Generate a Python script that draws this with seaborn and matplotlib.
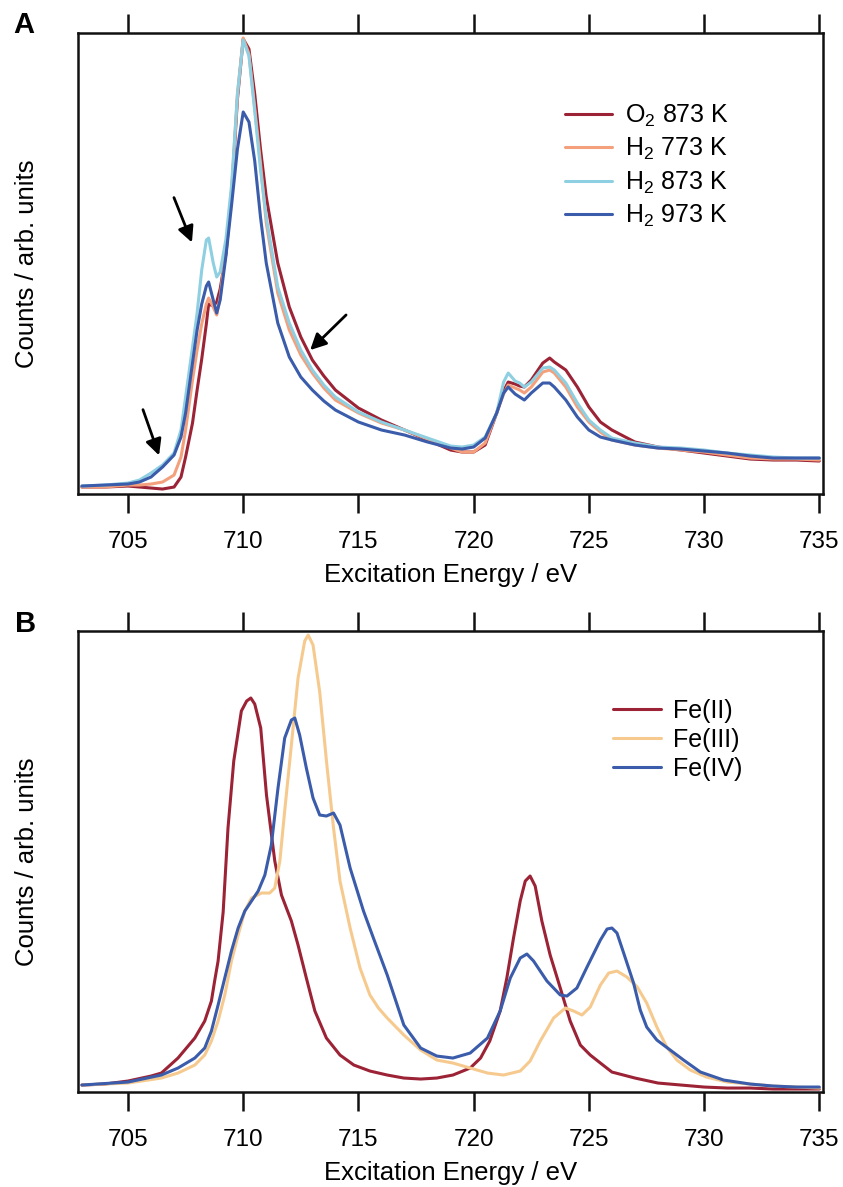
import pandas as pd
import matplotlib
matplotlib.use('Agg')
import matplotlib.pyplot as plt
import seaborn as sns

# Panel A: measured L-edge spectra (arb. units)
energy_a = [703, 704, 705, 705.5, 706, 706.5, 707, 707.3, 707.5, 707.8, 708, 708.2, 708.4, 708.5,
            708.7, 708.85, 709, 709.25, 709.5, 709.75, 710, 710.25, 710.5, 710.75, 711, 711.5, 712,
            712.5, 713, 713.5, 714, 715, 716, 717, 718, 719, 719.5, 720, 720.5, 721, 721.3, 721.5,
            721.8, 722, 722.2, 722.5, 723, 723.3, 723.5, 724, 724.5, 725, 725.5, 726, 727, 728, 729,
            730, 731, 732, 733, 734, 735]
o2_873 = [7, 7, 8, 7, 6, 5, 7, 17, 37, 71, 104, 135, 170, 190, 188, 192, 205, 240, 300, 395, 455,
          445, 400, 345, 297, 231, 187, 157, 134, 118, 104, 86, 74, 64, 54, 44, 42, 42, 49, 81, 103,
          112, 110, 108, 107, 114, 131, 136, 132, 124, 107, 87, 72, 64, 52, 47, 44, 41, 38, 35, 34,
          34, 33]
h2_773 = [7, 7, 9, 9, 10, 12, 19, 37, 64, 114, 144, 170, 190, 196, 187, 179, 197, 245, 305, 400, 456,
          440, 386, 331, 271, 201, 164, 139, 121, 106, 94, 81, 71, 64, 55, 46, 42, 42, 51, 81, 100,
          109, 106, 104, 101, 107, 122, 124, 121, 107, 87, 72, 62, 54, 49, 46, 44, 42, 39, 36, 35,
          35, 34]
h2_873 = [8, 9, 11, 14, 21, 29, 41, 64, 97, 147, 181, 224, 254, 256, 231, 217, 222, 255, 310, 400,
          454, 438, 383, 324, 277, 207, 171, 144, 124, 109, 97, 82, 72, 64, 56, 48, 47, 49, 57, 81,
          112, 121, 113, 111, 107, 112, 126, 127, 124, 111, 91, 74, 64, 56, 51, 47, 46, 44, 41, 39,
          37, 36, 36]
h2_973 = [8, 9, 10, 12, 17, 27, 39, 57, 81, 131, 164, 190, 208, 212, 194, 181, 194, 238, 290, 345,
          382, 372, 333, 277, 231, 171, 137, 117, 104, 93, 84, 72, 64, 59, 52, 46, 45, 47, 56, 81,
          101, 107, 100, 97, 94, 101, 111, 111, 107, 94, 77, 64, 57, 54, 49, 46, 45, 43, 41, 38,
          36, 36, 36]
labels_a = ['O$_{\\mathregular{2}}$ 873 K', 'H$_{\\mathregular{2}}$ 773 K',
            'H$_{\\mathregular{2}}$ 873 K', 'H$_{\\mathregular{2}}$ 973 K']
colors_a = ['#9B2335', '#F4A07C', '#8FCFE2', '#3A5CAA']

# Panel B: calculated spectra
energy_fe2 = [703, 704, 705, 706, 706.45, 707.17, 707.9, 708.33, 708.62, 708.76, 708.91, 709.13,
              709.34, 709.59, 709.92, 710.15, 710.33, 710.5, 710.76, 711.01, 711.37, 711.66, 712.09,
              712.38, 712.74, 713.11, 713.61, 714.2, 714.8, 715.5, 716.25, 716.97, 717.7, 718.4,
              719.1, 719.85, 720.3, 720.7, 721.15, 721.44, 721.73, 722.02, 722.24, 722.45, 722.67,
              722.96, 723.32, 723.76, 724.19, 724.63, 725.06, 725.5, 726, 727, 728, 729, 730, 731,
              732, 733, 734, 735]
counts_fe2 = [7, 8, 11, 16, 19, 34, 54, 71, 91, 111, 131, 180, 264, 331, 381, 391, 394, 388, 364,
              297, 231, 197, 171, 147, 114, 81, 54, 37, 27, 21, 17, 14, 13, 14, 17, 24, 34, 51, 81,
              114, 154, 191, 211, 216, 206, 171, 137, 104, 71, 47, 37, 29, 20, 14, 9, 7, 5, 4, 4,
              3, 3, 3]
energy_fe3 = [703, 705, 706.45, 707.17, 707.9, 708.33, 708.62, 708.91, 709.2, 709.49, 709.78,
              710.07, 710.36, 710.79, 711.15, 711.37, 711.59, 711.8, 712.09, 712.38, 712.67, 712.82,
              713.03, 713.32, 713.63, 713.92, 714.2, 714.64, 715.07, 715.5, 715.87, 716.25, 716.97,
              717.7, 718.4, 719.1, 719.85, 720.6, 721.3, 722.02, 722.45, 722.89, 723.47, 723.98,
              724.34, 724.7, 725.06, 725.5, 725.86, 726.22, 726.65, 727.1, 727.51, 727.95, 728.38,
              728.82, 729.4, 730.1, 731, 732, 733, 734, 735]
counts_fe3 = [7, 9, 14, 19, 27, 37, 51, 71, 97, 131, 157, 181, 194, 199, 199, 204, 231, 281, 347,
              414, 451, 457, 447, 400, 327, 264, 211, 164, 124, 97, 84, 74, 57, 42, 32, 29, 24, 19,
              17, 21, 31, 51, 74, 84, 81, 77, 85, 107, 119, 121, 115, 105, 89, 65, 45, 32, 22, 15,
              10, 8, 6, 5, 4]
energy_fe4 = [703, 705, 706.45, 707.17, 707.9, 708.33, 708.62, 708.91, 709.2, 709.49, 709.78,
              710.07, 710.36, 710.65, 710.94, 711.22, 711.51, 711.8, 712.09, 712.24, 712.45, 712.74,
              713.03, 713.32, 713.61, 713.92, 714.2, 714.64, 715.22, 715.65, 716.25, 716.97, 717.7,
              718.4, 719.1, 719.85, 720.6, 721.15, 721.59, 722.02, 722.31, 722.6, 723.18, 723.76,
              724.05, 724.48, 724.92, 725.5, 725.79, 726, 726.22, 726.51, 726.94, 727.23, 727.51,
              727.95, 728.53, 729.11, 729.84, 730.85, 732, 733, 734, 735]
counts_fe4 = [7, 10, 17, 24, 34, 44, 61, 87, 114, 141, 164, 181, 191, 201, 217, 247, 304, 354, 372,
              374, 357, 324, 294, 277, 276, 279, 267, 224, 181, 154, 117, 67, 44, 36, 34, 39, 54, 81,
              114, 134, 138, 131, 111, 97, 96, 104, 125, 152, 163, 164, 159, 139, 109, 82, 65, 52,
              42, 32, 20, 12, 8, 6, 5, 5]
labels_b = ['Fe(II)', 'Fe(III)', 'Fe(IV)']
colors_b = ['#9B2335', '#F6CA8E', '#3A5CAA']

xticks = [705, 710, 715, 720, 725, 730, 735]

# long tables for seaborn
df_a = pd.concat([pd.DataFrame({'E': energy_a, 'I': vals, 'serie': lab})
                  for vals, lab in zip([o2_873, h2_773, h2_873, h2_973], labels_a)])
df_b = pd.concat([pd.DataFrame({'E': e, 'I': c, 'serie': lab})
                  for e, c, lab in zip([energy_fe2, energy_fe3, energy_fe4],
                                       [counts_fe2, counts_fe3, counts_fe4], labels_b)])

sns.set_theme(style='ticks')
plt.rcParams['font.family'] = ['Liberation Sans', 'DejaVu Sans']
plt.rcParams['axes.linewidth'] = 1.8
plt.rcParams['axes.edgecolor'] = '#111111'
plt.rcParams['text.color'] = 'black'
plt.rcParams['axes.labelcolor'] = 'black'
plt.rcParams['xtick.color'] = '#111111'
plt.rcParams['xtick.labelcolor'] = 'black'

fig = plt.figure(figsize=(8.43, 11.87), dpi=100)
ax_a = fig.add_axes([0.0925, 0.5838, 0.8835, 0.3884])
ax_b = fig.add_axes([0.0925, 0.0800, 0.8835, 0.3884])

sns.lineplot(data=df_a, x='E', y='I', hue='serie', hue_order=labels_a, palette=colors_a,
             linewidth=2.2, legend=False, ax=ax_a)
sns.lineplot(data=df_b, x='E', y='I', hue='serie', hue_order=labels_b, palette=colors_b,
             linewidth=2.2, legend=False, ax=ax_b)

for ax in [ax_a, ax_b]:
    ax.set_xlim(702.83, 735.15)
    ax.set_ylim(0, 461)
    ax.set_xticks(xticks)
    ax.set_yticks([])
    ax.tick_params(axis='x', direction='out', length=13.5, width=1.8, top=True, labeltop=False,
                   labelsize=17.5, pad=13)
    ax.set_xlabel('Excitation Energy / eV', fontsize=18.5, labelpad=7)
    ax.set_ylabel('Counts / arb. units', fontsize=18.5, labelpad=28)
    for s in ax.spines.values():
        s.set_visible(True)

leg_a = ax_a.legend(ax_a.lines[:4], labels_a, loc='upper left', bbox_to_anchor=(0.637, 0.876),
                    frameon=False, fontsize=18, handlelength=1.9, handletextpad=0.5,
                    labelspacing=0.29, borderpad=0)
leg_b = ax_b.legend(ax_b.lines[:3], labels_b, loc='upper left', bbox_to_anchor=(0.702, 0.88),
                    frameon=False, fontsize=18, handlelength=1.9, handletextpad=0.5,
                    labelspacing=0.2, borderpad=0)

# arrows marking the features
arrow = dict(arrowstyle='-|>', color='black', lw=2, mutation_scale=24)
ax_a.annotate('', xy=(707.82, 249), xytext=(706.95, 299), arrowprops=arrow)
ax_a.annotate('', xy=(712.82, 142), xytext=(714.55, 181), arrowprops=arrow)
ax_a.annotate('', xy=(706.39, 36), xytext=(705.61, 87), arrowprops=arrow)

fig.text(13 / 843, 1 - 33 / 1187, 'A', fontsize=21, fontweight='bold', va='baseline')
fig.text(15 / 843, 1 - 632 / 1187, 'B', fontsize=21, fontweight='bold', va='baseline')

fig.savefig('out.png', dpi=100)
